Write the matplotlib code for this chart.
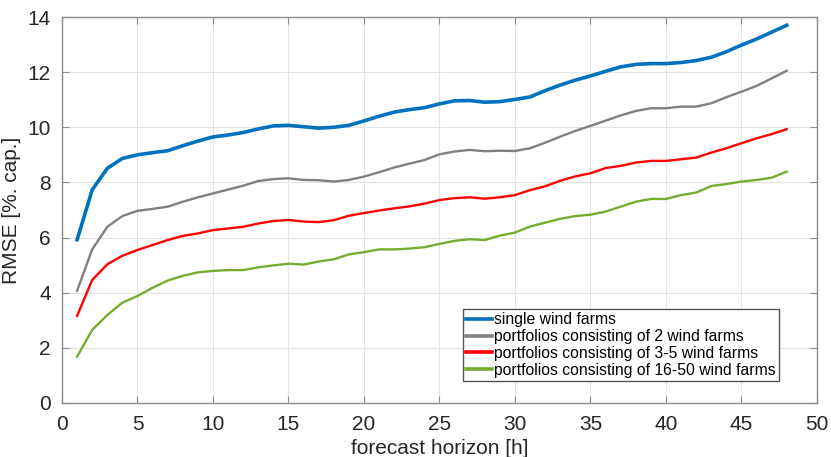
import numpy as np
import matplotlib.pyplot as plt

plt.rcParams['font.family'] = ['Liberation Sans', 'DejaVu Sans']

# ---------------------------
# data
# ---------------------------
hours = list(range(1, 49))

single = [5.92, 7.73, 8.51, 8.87, 9.0, 9.08, 9.15, 9.33, 9.5, 9.65,
          9.72, 9.81, 9.94, 10.05, 10.07, 10.02, 9.97, 10.0, 10.07, 10.23,
          10.4, 10.55, 10.64, 10.71, 10.85, 10.96, 10.97, 10.91, 10.93, 11.01,
          11.1, 11.33, 11.53, 11.71, 11.86, 12.03, 12.19, 12.28, 12.31, 12.31,
          12.35, 12.42, 12.54, 12.74, 12.98, 13.2, 13.45, 13.7]

two = [4.07, 5.57, 6.39, 6.78, 6.97, 7.04, 7.12, 7.3, 7.46, 7.6,
       7.74, 7.88, 8.05, 8.12, 8.15, 8.09, 8.08, 8.03, 8.09, 8.21,
       8.37, 8.54, 8.68, 8.81, 9.02, 9.12, 9.18, 9.13, 9.15, 9.14,
       9.24, 9.44, 9.66, 9.87, 10.05, 10.24, 10.43, 10.59, 10.69, 10.69,
       10.75, 10.75, 10.87, 11.09, 11.29, 11.5, 11.77, 12.05]

three_five = [3.16, 4.46, 5.03, 5.34, 5.55, 5.73, 5.91, 6.06, 6.15, 6.27,
              6.33, 6.39, 6.51, 6.6, 6.64, 6.58, 6.56, 6.63, 6.79, 6.89,
              6.98, 7.06, 7.13, 7.23, 7.36, 7.43, 7.46, 7.41, 7.46, 7.54,
              7.72, 7.86, 8.06, 8.22, 8.33, 8.52, 8.6, 8.72, 8.78, 8.78,
              8.84, 8.9, 9.08, 9.24, 9.42, 9.6, 9.75, 9.93]

many = [1.68, 2.65, 3.19, 3.64, 3.88, 4.18, 4.44, 4.61, 4.74, 4.79,
        4.82, 4.82, 4.92, 4.99, 5.05, 5.02, 5.13, 5.21, 5.39, 5.47,
        5.57, 5.57, 5.6, 5.65, 5.77, 5.88, 5.94, 5.91, 6.07, 6.18,
        6.4, 6.54, 6.68, 6.78, 6.83, 6.94, 7.12, 7.3, 7.4, 7.4,
        7.54, 7.63, 7.87, 7.94, 8.03, 8.09, 8.17, 8.39]

labels = ["single wind farms",
          "portfolios consisting of 2 wind farms",
          "portfolios consisting of 3-5 wind farms",
          "portfolios consisting of 16-50 wind farms"]
colors = ["#0072BD", "#808080", "#FF0000", "#77AC30"]
widths = [2.6, 1.7, 1.7, 1.7]

# ---------------------------
# plot
# ---------------------------
fig = plt.figure(figsize=(8.31, 4.57), dpi=100)
ax = fig.add_axes([0.0746, 0.1182, 0.9084, 0.8446])

for series, lab, col, lw in zip([single, two, three_five, many], labels, colors, widths):
    ax.plot(hours, series, color=col, lw=lw, label=lab)

ax.set_xlim(0, 50)
ax.set_ylim(0, 14)
ax.set_xticks(np.arange(0, 51, 5))
ax.set_yticks(np.arange(0, 15, 2))
ax.grid(True, color="#e3e3e3", lw=0.8)
ax.set_axisbelow(True)

for s in ax.spines.values():
    s.set_color("#8a8a8a")
    s.set_linewidth(1.0)
ax.tick_params(direction="in", top=True, right=True, length=5,
               color="#8a8a8a", labelsize=15, labelcolor="#262626")
ax.tick_params(axis="x", pad=9)
ax.tick_params(axis="y", pad=8)

ax.set_xlabel("forecast horizon [h]", fontsize=15, color="#262626", labelpad=3)
ax.set_ylabel("RMSE [%. cap.]", fontsize=15, color="#262626", labelpad=5)

leg = ax.legend(loc="lower right", bbox_to_anchor=(0.9497, 0.057), fontsize=11.3,
                frameon=True, fancybox=False, handlelength=1.65, handletextpad=0.15,
                borderpad=0.2, labelspacing=0.12, borderaxespad=0)
leg.get_frame().set_edgecolor("#555555")
leg.get_frame().set_linewidth(1.0)
leg.get_frame().set_alpha(1)
for h in leg.get_lines():
    h.set_linewidth(2.6)

fig.savefig("out.png", dpi=100)
